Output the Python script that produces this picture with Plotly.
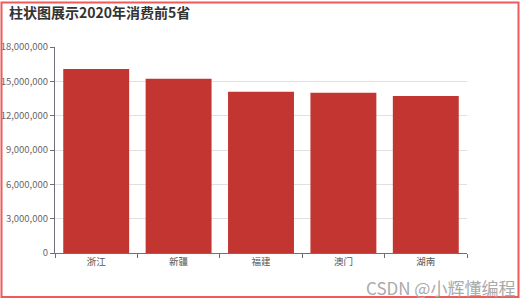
import plotly.graph_objects as go

provinces = ["浙江", "新疆", "福建", "澳门", "湖南"]
consumption = [16080000, 15230000, 14090000, 14000000, 13720000]
y_ticks = [0, 3000000, 6000000, 9000000, 12000000, 15000000, 18000000]

W, H = 524, 300
L, R, T, B = 55, 57, 47, 47
pw, ph = W - L - R, H - T - B

def px_x(x):
    return (x - L) / pw

def px_y(y):
    return (H - B - y) / ph

FONT = "Noto Sans CJK SC"

fig = go.Figure(go.Bar(
    x=provinces, y=consumption,
    marker=dict(color="#c23531", line=dict(width=0)),
))

fig.update_layout(
    width=W, height=H,
    margin=dict(l=L, r=R, t=T, b=B),
    paper_bgcolor="white", plot_bgcolor="white",
    bargap=0.2,
    showlegend=False,
    font=dict(family=FONT, size=10, color="#666"),
    xaxis=dict(
        type="category", tickson="boundaries", automargin=False,
        showline=True, linecolor="#6e7079", linewidth=1,
        ticks="outside", ticklen=4, tickcolor="#6e7079",
        showgrid=False, tickfont=dict(size=9.5, color="#555"),
    ),
    yaxis=dict(
        range=[0, 18000000], tickvals=y_ticks, tickformat=",", automargin=False,
        showline=True, linecolor="#6e7079", linewidth=1,
        ticks="outside", ticklen=4, tickcolor="#6e7079",
        showgrid=True, gridcolor="#e0e0e0", gridwidth=1,
        zeroline=False, tickfont=dict(size=9.5, color="#666"),
    ),
    shapes=[dict(
        type="rect", xref="paper", yref="paper",
        x0=px_x(1.5), x1=px_x(518.5), y0=px_y(297), y1=px_y(2.5),
        line=dict(color="#f05a5a", width=2), fillcolor="rgba(0,0,0,0)",
        layer="above",
    )],
    annotations=[
        dict(text="<b>柱状图展示2020年消费前5省</b>", xref="paper", yref="paper",
             x=px_x(7), y=px_y(12), xanchor="left", yanchor="middle",
             showarrow=False, font=dict(family=FONT, size=14, color="#333")),
        dict(text="CSDN @小辉懂编程", xref="paper", yref="paper",
             x=px_x(517), y=px_y(287), xanchor="right", yanchor="middle",
             showarrow=False, font=dict(family=FONT, size=17, color="#aaaaaa")),
    ],
)

fig.write_html("out.html")
